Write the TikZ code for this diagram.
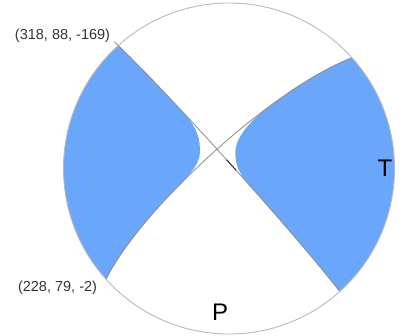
\documentclass[tikz,border=0pt]{standalone}
\usepackage{fontspec}
\setmainfont{Liberation Sans}
\definecolor{ballblue}{RGB}{106,166,250}
\definecolor{rimgray}{RGB}{185,185,185}
\definecolor{planegray}{RGB}{140,140,140}
\begin{document}
\begin{tikzpicture}[x=1pt,y=-1pt,
  declare function={
    plaE(\t)=cos(\t)*sin(318)+sin(\t)*cos(88)*sin(48);
    plaN(\t)=cos(\t)*cos(318)+sin(\t)*cos(88)*cos(48);
    plaD(\t)=sin(\t)*sin(88);
    plaX(\t)=229+165.5*plaE(\t)/sqrt(1+plaD(\t));
    plaY(\t)=168.5-165.5*plaN(\t)/sqrt(1+plaD(\t));
    plbE(\t)=cos(\t)*sin(228)+sin(\t)*cos(79)*sin(318);
    plbN(\t)=cos(\t)*cos(228)+sin(\t)*cos(79)*cos(318);
    plbD(\t)=sin(\t)*sin(79);
    plbX(\t)=229+165.5*plbE(\t)/sqrt(1+plbD(\t));
    plbY(\t)=168.5-165.5*plbN(\t)/sqrt(1+plbD(\t));
  },
  bluefill/.style={fill=ballblue},
  rim/.style={draw=rimgray, line width=0.9pt},
  nodal/.style={draw=planegray, line width=0.8pt},
  darkseg/.style={draw=black!85, line width=0.9pt},
  lbl/.style={font=\fontsize{14.5}{17}\selectfont, text=black!80, inner sep=0pt},
  axislbl/.style={font=\fontsize{24}{28}\selectfont, inner sep=0pt}
]
\useasboundingbox (0,0) rectangle (403,335);
\coordinate (ctr) at (229,168.5);

% left compressional region
\path[bluefill]
  plot[domain=0:55, samples=40, variable=\t] ({plaX(\t)},{plaY(\t)})
  .. controls (198,128.5) and (200,140) .. (200,152)
  .. controls (200,164) and (188.3,176.9) .. ({plbX(60)},{plbY(60)})
  -- plot[domain=60:0, samples=40, variable=\t] ({plbX(\t)},{plbY(\t)})
  arc[start angle=138, end angle=228, radius=165.5] -- cycle;

% right compressional region
\path[bluefill]
  plot[domain=180:122, samples=40, variable=\t] ({plbX(\t)},{plbY(\t)})
  .. controls (246.9,124.4) and (235.3,139.7) .. (235.3,151.7)
  .. controls (235.3,163.7) and (237.7,172.1) .. ({plaX(103)},{plaY(103)})
  -- plot[domain=103:180, samples=40, variable=\t] ({plaX(\t)},{plaY(\t)})
  arc[start angle=48, end angle=-42, radius=165.5] -- cycle;

% nodal planes
\draw[nodal] plot[domain=-4:180, samples=120, variable=\t] ({plaX(\t)},{plaY(\t)});
\draw[nodal] plot[domain=0:180, samples=120, variable=\t] ({plbX(\t)},{plbY(\t)});
\draw[darkseg] plot[domain=86:93, samples=10, variable=\t] ({plaX(\t)},{plaY(\t)});

% rim
\draw[rim] (ctr) circle[radius=165.5];

% labels
\node[lbl] (plane1) at (62.5,36) {(318, 88, -169)};
\node[lbl] (plane2) at (57.5,288) {(228, 79, -2)};
\node[axislbl] (taxis) at (385,168.5) {T};
\node[axislbl] (paxis) at (220,312) {P};
\end{tikzpicture}
\end{document}
